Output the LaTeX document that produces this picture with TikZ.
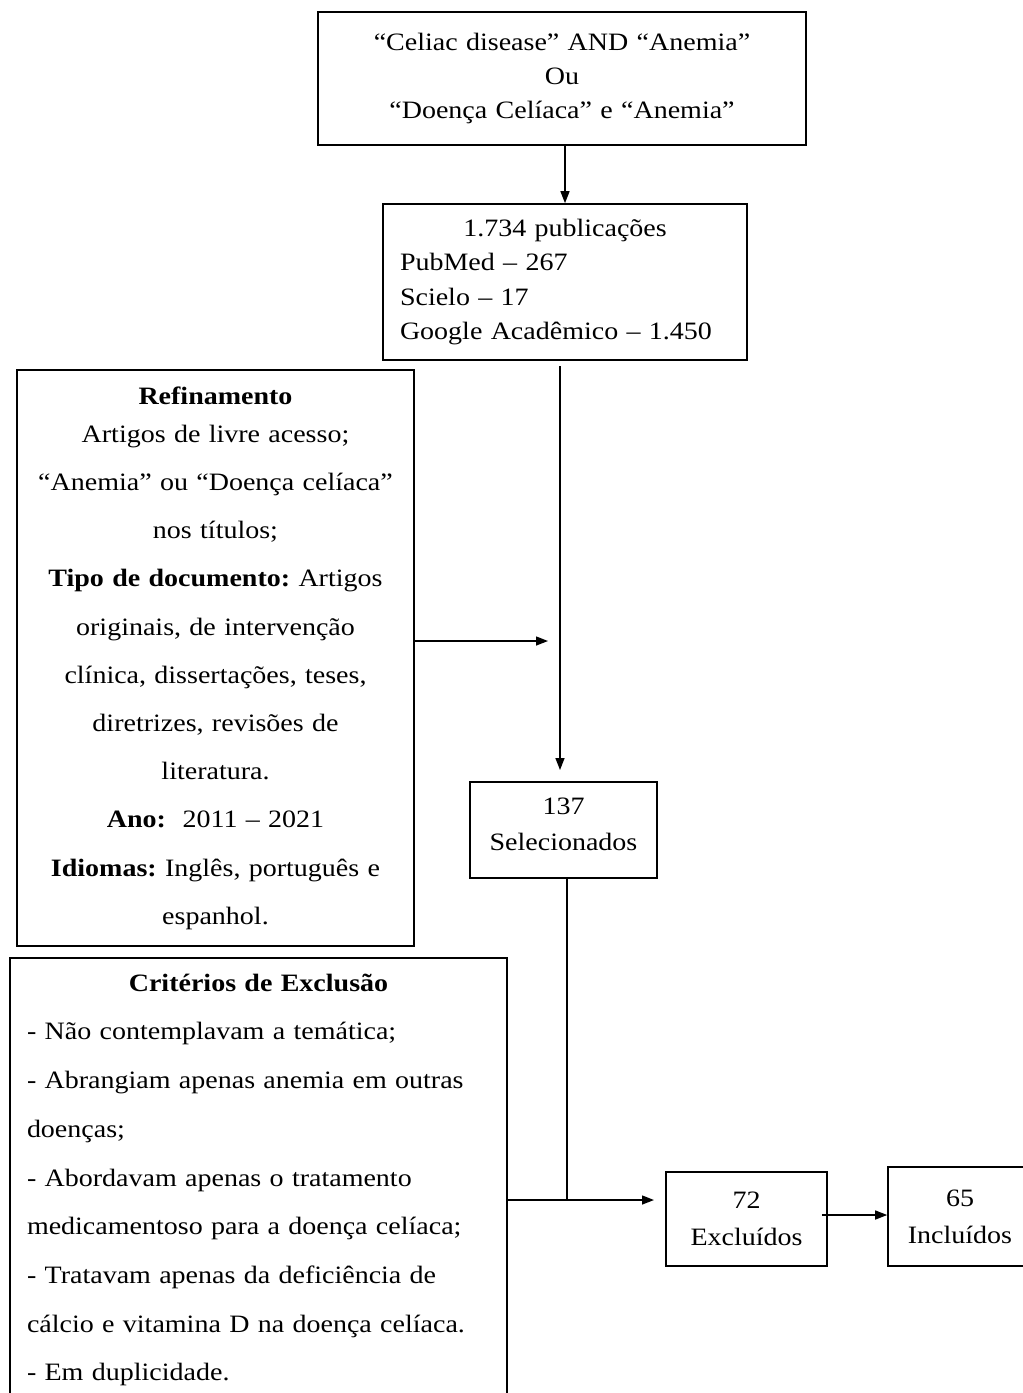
\documentclass[tikz,border=0pt]{standalone}
\usepackage{fontspec}
\setmainfont{Liberation Serif}[FakeStretch=1.12]
\usetikzlibrary{arrows.meta}
\frenchspacing
\begin{document}
\begin{tikzpicture}[x=1pt,y=-1pt,
  box/.style={draw, line width=1.6pt, inner sep=0pt},
  txt/.style={font=\fontsize{25}{#1}\selectfont},
  arr/.style={line width=1.4pt, -{Triangle[length=12pt,width=9pt]}},
  ln/.style={line width=1.4pt}]
\useasboundingbox (0,0) rectangle (1023,1393);
\fill[white] (0,0) rectangle (1023,1393);
\clip (0,0) rectangle (1023,1393);

\node[box, txt=34, minimum width=488pt, minimum height=133pt, text width=460pt, align=center] (q) at (562,78.5)
  {“Celiac disease” AND “Anemia”\\Ou\\“Doença Celíaca” e “Anemia”};

\node[box, txt=34.5, minimum width=364pt, minimum height=156pt, text width=330pt, align=left] (pub) at (565,282)
  {\makebox[\linewidth]{1.734 publicações}\\PubMed – 267\\Scielo – 17\\Google Acadêmico – 1.450};

\node[box, txt=48.2, minimum width=397pt, minimum height=576pt, text width=385pt, align=center] (ref) at (215.5,658)
  {\textbf{Refinamento}\\[-10pt]
   Artigos de livre acesso;\\
   “Anemia” ou “Doença celíaca”\\
   nos títulos;\\
   \textbf{Tipo de documento:} Artigos\\
   originais, de intervenção\\
   clínica, dissertações, teses,\\
   diretrizes, revisões de\\
   literatura.\\
   \textbf{Ano:}\ \ 2011 – 2021\\
   \textbf{Idiomas:} Inglês, português e\\
   espanhol.};

\node[box, txt=36, minimum width=187pt, minimum height=96pt, text width=180pt, text depth=48pt, align=center] (sel) at (563.5,830)
  {137\\Selecionados};

\node[box, txt=48.7, minimum width=497pt, minimum height=444pt, text width=463pt, align=left] (exc) at (258.5,1180)
  {\makebox[\linewidth]{\textbf{Critérios de Exclusão}}\\
   - Não contemplavam a temática;\\
   - Abrangiam apenas anemia em outras\\
   doenças;\\
   - Abordavam apenas o tratamento\\
   medicamentoso para a doença celíaca;\\
   - Tratavam apenas da deficiência de\\
   cálcio e vitamina D na doença celíaca.\\
   - Em duplicidade.};

\node[box, txt=37, minimum width=161pt, minimum height=94pt, text width=150pt, align=center] (exl) at (746.5,1219)
  {72\\Excluídos};

\node[box, txt=37, minimum width=144pt, minimum height=99pt, text width=140pt, align=center] (inc) at (960,1216.5)
  {65\\Incluídos};

% connectors
\draw[arr] (q.south -| pub.north) -- (pub.north);
\coordinate (v1) at (560,366);
\coordinate (v2) at (560,770);
\draw[arr] (v1) -- (v2);
\coordinate (r1) at (548,641);
\draw[arr] (ref.east |- r1) -- (r1);
\coordinate (j) at (567,1200);
\coordinate (jt) at (654,1200);
\draw[ln] (sel.south -| j) -- (j);
\draw[arr] (exc.east |- j) -- (jt);
\draw[arr] ([xshift=-6pt]exl.east |- 0,1215) -- (inc.west |- 0,1215);
\end{tikzpicture}
\end{document}
